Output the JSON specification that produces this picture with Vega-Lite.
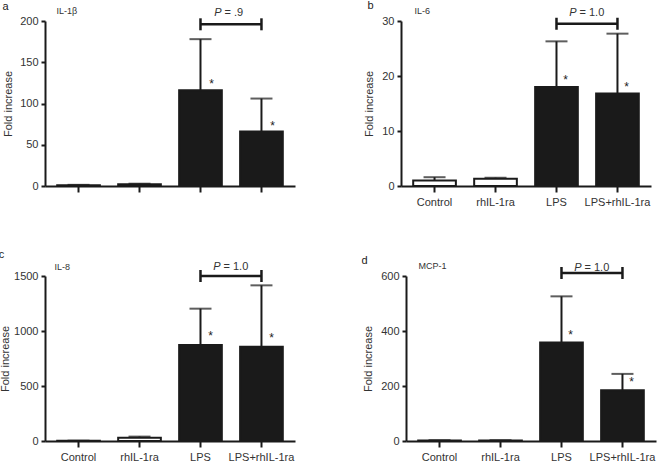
{
  "$schema": "https://vega.github.io/schema/vega-lite/v6.json",
  "padding": {"left": -2, "top": 0, "right": 2, "bottom": 0},
  "datasets": {
    "bars": [
      {"panel": "a", "group": "Control", "value": 1.0, "upper": 1.4, "sig": ""},
      {"panel": "a", "group": "rhIL-1ra", "value": 2.0, "upper": 2.8, "sig": ""},
      {"panel": "a", "group": "LPS", "value": 116, "upper": 178, "sig": "*"},
      {"panel": "a", "group": "LPS+rhIL-1ra", "value": 66, "upper": 106, "sig": "*"},
      {"panel": "b", "group": "Control", "value": 1.0, "upper": 1.6, "sig": ""},
      {"panel": "b", "group": "rhIL-1ra", "value": 1.3, "upper": 1.5, "sig": ""},
      {"panel": "b", "group": "LPS", "value": 18.0, "upper": 26.3, "sig": "*"},
      {"panel": "b", "group": "LPS+rhIL-1ra", "value": 16.8, "upper": 27.7, "sig": "*"},
      {"panel": "c", "group": "Control", "value": 2, "upper": 3, "sig": ""},
      {"panel": "c", "group": "rhIL-1ra", "value": 30, "upper": 40, "sig": ""},
      {"panel": "c", "group": "LPS", "value": 873, "upper": 1203, "sig": "*"},
      {"panel": "c", "group": "LPS+rhIL-1ra", "value": 857, "upper": 1415, "sig": "*"},
      {"panel": "d", "group": "Control", "value": 2, "upper": 3, "sig": ""},
      {"panel": "d", "group": "rhIL-1ra", "value": 2, "upper": 3, "sig": ""},
      {"panel": "d", "group": "LPS", "value": 358, "upper": 526, "sig": "*"},
      {"panel": "d", "group": "LPS+rhIL-1ra", "value": 185, "upper": 244, "sig": "*"}
    ],
    "ends": [
      {"group": "LPS"},
      {"group": "LPS+rhIL-1ra"}
    ],
    "one": [{"k": 1}]
  },
  "config": {
    "view": {"stroke": null},
    "font": "Liberation Sans",
    "axis": {
      "domainColor": "#1a1a1a", "domainWidth": 2, "tickColor": "#1a1a1a", "tickWidth": 2, "tickSize": 4,
      "labelColor": "#333333", "labelFontSize": 11, "labelFont": "Liberation Sans", "labelPadding": 3,
      "titleColor": "#333333", "titleFontSize": 11, "titleFontWeight": "normal", "titleFont": "Liberation Sans", "titlePadding": 7,
      "grid": false
    },
    "axisX": {"labelAngle": 0, "labelPadding": 4, "tickSize": 6}
  },
  "spacing": 41,
  "vconcat": [
    {
      "spacing": 68,
      "columns": 2,
      "align": "none",
      "concat": [
        {
          "width": 250, "height": 165,
          "encoding": {
            "x": {"field": "group", "type": "nominal", "title": null,
                  "scale": {"domain": ["Control", "rhIL-1ra", "LPS", "LPS+rhIL-1ra"], "paddingInner": 0.3, "paddingOuter": 0.2},
                  "axis": {"labels": false}}
          },
          "layer": [
            {
              "data": {"name": "bars"},
              "transform": [{"filter": "datum.panel == 'a'"}],
              "encoding": {
                "y": {"field": "value", "type": "quantitative", "title": "Fold increase",
                      "scale": {"domain": [0, 200], "nice": false},
                      "axis": {"titlePadding": 6, "values": [0, 25, 50, 75, 100, 125, 150, 175, 200], "labelExpr": "datum.value % 50 === 0 ? datum.label : ''"}}
              },
              "layer": [
                {"mark": {"type": "rule", "strokeWidth": 2, "color": "#1a1a1a"}, "encoding": {"y2": {"field": "upper"}}},
                {"mark": {"type": "tick", "size": 22, "thickness": 2, "color": "#1a1a1a"}, "encoding": {"y": {"field": "upper", "type": "quantitative", "title": "Fold increase"}}},
                {"mark": {"type": "bar", "stroke": "#1a1a1a", "strokeWidth": 2},
                 "encoding": {"fill": {"field": "group", "type": "nominal", "scale": {"domain": ["Control", "rhIL-1ra", "LPS", "LPS+rhIL-1ra"], "range": ["#ffffff", "#ffffff", "#1a1a1a", "#1a1a1a"]}, "legend": null}}},
                {"mark": {"type": "text", "dx": 11, "dy": -6, "fontSize": 12, "color": "#222222"}, "encoding": {"text": {"field": "sig"}}}
              ]
            },
            {
              "data": {"name": "one"},
              "mark": {"type": "rule", "strokeWidth": 2.5, "color": "#1a1a1a"},
              "encoding": {"x": {"datum": "LPS"}, "x2": {"datum": "LPS+rhIL-1ra"}, "y": {"datum": 196, "type": "quantitative", "title": "Fold increase"}}
            },
            {
              "data": {"name": "ends"},
              "mark": {"type": "point", "shape": "M0,-1L0,1", "size": 144, "strokeWidth": 2.5, "color": "#1a1a1a", "opacity": 1, "filled": false},
              "encoding": {"y": {"datum": 196, "type": "quantitative", "title": "Fold increase"}}
            },
            {
              "data": {"name": "one"},
              "mark": {"type": "text", "text": "P", "fontStyle": "italic", "align": "right", "baseline": "middle", "dx": 21, "fontSize": 11, "color": "#333333"},
              "encoding": {"x": {"datum": "LPS"}, "y": {"datum": 210, "type": "quantitative", "title": "Fold increase"}}
            },
            {
              "data": {"name": "one"},
              "mark": {"type": "text", "text": "= .9", "align": "left", "baseline": "middle", "dx": 24, "fontSize": 11, "color": "#333333"},
              "encoding": {"x": {"datum": "LPS"}, "y": {"datum": 210, "type": "quantitative", "title": "Fold increase"}}
            },
            {
              "data": {"name": "one"},
              "mark": {"type": "text", "text": "IL-1β", "align": "left", "baseline": "middle", "dx": -22, "fontSize": 9, "color": "#333333"},
              "encoding": {"x": {"datum": "Control"}, "y": {"datum": 212, "type": "quantitative", "title": "Fold increase"}}
            },
            {
              "data": {"name": "one"},
              "mark": {"type": "text", "text": "a", "align": "center", "baseline": "middle", "dx": -73, "fontSize": 11, "color": "#222222"},
              "encoding": {"x": {"datum": "Control"}, "y": {"datum": 217, "type": "quantitative", "title": "Fold increase"}}
            }
          ]
        },
        {
          "width": 250, "height": 165,
          "encoding": {
            "x": {"field": "group", "type": "nominal", "title": null,
                  "scale": {"domain": ["Control", "rhIL-1ra", "LPS", "LPS+rhIL-1ra"], "paddingInner": 0.3, "paddingOuter": 0.2}}
          },
          "layer": [
            {
              "data": {"name": "bars"},
              "transform": [{"filter": "datum.panel == 'b'"}],
              "encoding": {
                "y": {"field": "value", "type": "quantitative", "title": "Fold increase",
                      "scale": {"domain": [0, 30], "nice": false},
                      "axis": {"values": [0, 5, 10, 15, 20, 25, 30], "labelExpr": "datum.value % 10 === 0 ? datum.label : ''"}}
              },
              "layer": [
                {"mark": {"type": "rule", "strokeWidth": 2, "color": "#1a1a1a"}, "encoding": {"y2": {"field": "upper"}}},
                {"mark": {"type": "tick", "size": 22, "thickness": 2, "color": "#1a1a1a"}, "encoding": {"y": {"field": "upper", "type": "quantitative", "title": "Fold increase"}}},
                {"mark": {"type": "bar", "stroke": "#1a1a1a", "strokeWidth": 2},
                 "encoding": {"fill": {"field": "group", "type": "nominal", "scale": {"domain": ["Control", "rhIL-1ra", "LPS", "LPS+rhIL-1ra"], "range": ["#ffffff", "#ffffff", "#1a1a1a", "#1a1a1a"]}, "legend": null}}},
                {"mark": {"type": "text", "dx": 9, "dy": -7, "fontSize": 12, "color": "#222222"}, "encoding": {"text": {"field": "sig"}}}
              ]
            },
            {
              "data": {"name": "one"},
              "mark": {"type": "rule", "strokeWidth": 2.5, "color": "#1a1a1a"},
              "encoding": {"x": {"datum": "LPS"}, "x2": {"datum": "LPS+rhIL-1ra"}, "y": {"datum": 29.5, "type": "quantitative", "title": "Fold increase"}}
            },
            {
              "data": {"name": "ends"},
              "mark": {"type": "point", "shape": "M0,-1L0,1", "size": 144, "strokeWidth": 2.5, "color": "#1a1a1a", "opacity": 1, "filled": false},
              "encoding": {"y": {"datum": 29.5, "type": "quantitative", "title": "Fold increase"}}
            },
            {
              "data": {"name": "one"},
              "mark": {"type": "text", "text": "P", "fontStyle": "italic", "align": "right", "baseline": "middle", "dx": 20, "fontSize": 11, "color": "#333333"},
              "encoding": {"x": {"datum": "LPS"}, "y": {"datum": 31.5, "type": "quantitative", "title": "Fold increase"}}
            },
            {
              "data": {"name": "one"},
              "mark": {"type": "text", "text": "= 1.0", "align": "left", "baseline": "middle", "dx": 23, "fontSize": 11, "color": "#333333"},
              "encoding": {"x": {"datum": "LPS"}, "y": {"datum": 31.5, "type": "quantitative", "title": "Fold increase"}}
            },
            {
              "data": {"name": "one"},
              "mark": {"type": "text", "text": "IL-6", "align": "left", "baseline": "middle", "dx": -20, "fontSize": 9, "color": "#333333"},
              "encoding": {"x": {"datum": "Control"}, "y": {"datum": 31.8, "type": "quantitative", "title": "Fold increase"}}
            },
            {
              "data": {"name": "one"},
              "mark": {"type": "text", "text": "b", "align": "center", "baseline": "middle", "dx": -64, "fontSize": 11, "color": "#222222"},
              "encoding": {"x": {"datum": "Control"}, "y": {"datum": 32.7, "type": "quantitative", "title": "Fold increase"}}
            }
          ]
        }
      ]
    },
    {
      "spacing": 66,
      "columns": 2,
      "align": "none",
      "concat": [
        {
          "width": 250, "height": 165,
          "encoding": {
            "x": {"field": "group", "type": "nominal", "title": null,
                  "scale": {"domain": ["Control", "rhIL-1ra", "LPS", "LPS+rhIL-1ra"], "paddingInner": 0.3, "paddingOuter": 0.2}}
          },
          "layer": [
            {
              "data": {"name": "bars"},
              "transform": [{"filter": "datum.panel == 'c'"}],
              "encoding": {
                "y": {"field": "value", "type": "quantitative", "title": "Fold increase",
                      "scale": {"domain": [0, 1500], "nice": false},
                      "axis": {"titlePadding": 3.5, "values": [0, 250, 500, 750, 1000, 1250, 1500], "labelExpr": "datum.value % 500 === 0 ? datum.value : ''"}}
              },
              "layer": [
                {"mark": {"type": "rule", "strokeWidth": 2, "color": "#1a1a1a"}, "encoding": {"y2": {"field": "upper"}}},
                {"mark": {"type": "tick", "size": 22, "thickness": 2, "color": "#1a1a1a"}, "encoding": {"y": {"field": "upper", "type": "quantitative", "title": "Fold increase"}}},
                {"mark": {"type": "bar", "stroke": "#1a1a1a", "strokeWidth": 2},
                 "encoding": {"fill": {"field": "group", "type": "nominal", "scale": {"domain": ["Control", "rhIL-1ra", "LPS", "LPS+rhIL-1ra"], "range": ["#ffffff", "#ffffff", "#1a1a1a", "#1a1a1a"]}, "legend": null}}},
                {"mark": {"type": "text", "dx": 10, "dy": -9, "fontSize": 12, "color": "#222222"}, "encoding": {"text": {"field": "sig"}}}
              ]
            },
            {
              "data": {"name": "one"},
              "mark": {"type": "rule", "strokeWidth": 2.5, "color": "#1a1a1a"},
              "encoding": {"x": {"datum": "LPS"}, "x2": {"datum": "LPS+rhIL-1ra"}, "y": {"datum": 1500, "type": "quantitative", "title": "Fold increase"}}
            },
            {
              "data": {"name": "ends"},
              "mark": {"type": "point", "shape": "M0,-1L0,1", "size": 144, "strokeWidth": 2.5, "color": "#1a1a1a", "opacity": 1, "filled": false},
              "encoding": {"y": {"datum": 1500, "type": "quantitative", "title": "Fold increase"}}
            },
            {
              "data": {"name": "one"},
              "mark": {"type": "text", "text": "P", "fontStyle": "italic", "align": "right", "baseline": "middle", "dx": 20, "fontSize": 11, "color": "#333333"},
              "encoding": {"x": {"datum": "LPS"}, "y": {"datum": 1585, "type": "quantitative", "title": "Fold increase"}}
            },
            {
              "data": {"name": "one"},
              "mark": {"type": "text", "text": "= 1.0", "align": "left", "baseline": "middle", "dx": 23, "fontSize": 11, "color": "#333333"},
              "encoding": {"x": {"datum": "LPS"}, "y": {"datum": 1585, "type": "quantitative", "title": "Fold increase"}}
            },
            {
              "data": {"name": "one"},
              "mark": {"type": "text", "text": "IL-8", "align": "left", "baseline": "middle", "dx": -24, "fontSize": 9, "color": "#333333"},
              "encoding": {"x": {"datum": "Control"}, "y": {"datum": 1585, "type": "quantitative", "title": "Fold increase"}}
            },
            {
              "data": {"name": "one"},
              "mark": {"type": "text", "text": "c", "align": "center", "baseline": "middle", "dx": -77, "fontSize": 11, "color": "#222222"},
              "encoding": {"x": {"datum": "Control"}, "y": {"datum": 1691, "type": "quantitative", "title": "Fold increase"}}
            }
          ]
        },
        {
          "width": 250, "height": 165,
          "encoding": {
            "x": {"field": "group", "type": "nominal", "title": null,
                  "scale": {"domain": ["Control", "rhIL-1ra", "LPS", "LPS+rhIL-1ra"], "paddingInner": 0.3, "paddingOuter": 0.2}}
          },
          "layer": [
            {
              "data": {"name": "bars"},
              "transform": [{"filter": "datum.panel == 'd'"}],
              "encoding": {
                "y": {"field": "value", "type": "quantitative", "title": "Fold increase",
                      "scale": {"domain": [0, 600], "nice": false},
                      "axis": {"values": [0, 100, 200, 300, 400, 500, 600], "labelExpr": "datum.value % 200 === 0 ? datum.label : ''"}}
              },
              "layer": [
                {"mark": {"type": "rule", "strokeWidth": 2, "color": "#1a1a1a"}, "encoding": {"y2": {"field": "upper"}}},
                {"mark": {"type": "tick", "size": 22, "thickness": 2, "color": "#1a1a1a"}, "encoding": {"y": {"field": "upper", "type": "quantitative", "title": "Fold increase"}}},
                {"mark": {"type": "bar", "stroke": "#1a1a1a", "strokeWidth": 2},
                 "encoding": {"fill": {"field": "group", "type": "nominal", "scale": {"domain": ["Control", "rhIL-1ra", "LPS", "LPS+rhIL-1ra"], "range": ["#ffffff", "#ffffff", "#1a1a1a", "#1a1a1a"]}, "legend": null}}},
                {"mark": {"type": "text", "dx": 9, "dy": -8, "fontSize": 12, "color": "#222222"}, "encoding": {"text": {"field": "sig"}}}
              ]
            },
            {
              "data": {"name": "one"},
              "mark": {"type": "rule", "strokeWidth": 2.5, "color": "#1a1a1a"},
              "encoding": {"x": {"datum": "LPS"}, "x2": {"datum": "LPS+rhIL-1ra"}, "y": {"datum": 611, "type": "quantitative", "title": "Fold increase"}}
            },
            {
              "data": {"name": "ends"},
              "mark": {"type": "point", "shape": "M0,-1L0,1", "size": 144, "strokeWidth": 2.5, "color": "#1a1a1a", "opacity": 1, "filled": false},
              "encoding": {"y": {"datum": 611, "type": "quantitative", "title": "Fold increase"}}
            },
            {
              "data": {"name": "one"},
              "mark": {"type": "text", "text": "P", "fontStyle": "italic", "align": "right", "baseline": "middle", "dx": 20, "fontSize": 11, "color": "#333333"},
              "encoding": {"x": {"datum": "LPS"}, "y": {"datum": 630, "type": "quantitative", "title": "Fold increase"}}
            },
            {
              "data": {"name": "one"},
              "mark": {"type": "text", "text": "= 1.0", "align": "left", "baseline": "middle", "dx": 23, "fontSize": 11, "color": "#333333"},
              "encoding": {"x": {"datum": "LPS"}, "y": {"datum": 630, "type": "quantitative", "title": "Fold increase"}}
            },
            {
              "data": {"name": "one"},
              "mark": {"type": "text", "text": "MCP-1", "align": "left", "baseline": "middle", "dx": -21, "fontSize": 9, "color": "#333333"},
              "encoding": {"x": {"datum": "Control"}, "y": {"datum": 636, "type": "quantitative", "title": "Fold increase"}}
            },
            {
              "data": {"name": "one"},
              "mark": {"type": "text", "text": "d", "align": "center", "baseline": "middle", "dx": -75, "fontSize": 11, "color": "#222222"},
              "encoding": {"x": {"datum": "Control"}, "y": {"datum": 654, "type": "quantitative", "title": "Fold increase"}}
            }
          ]
        }
      ]
    }
  ]
}
